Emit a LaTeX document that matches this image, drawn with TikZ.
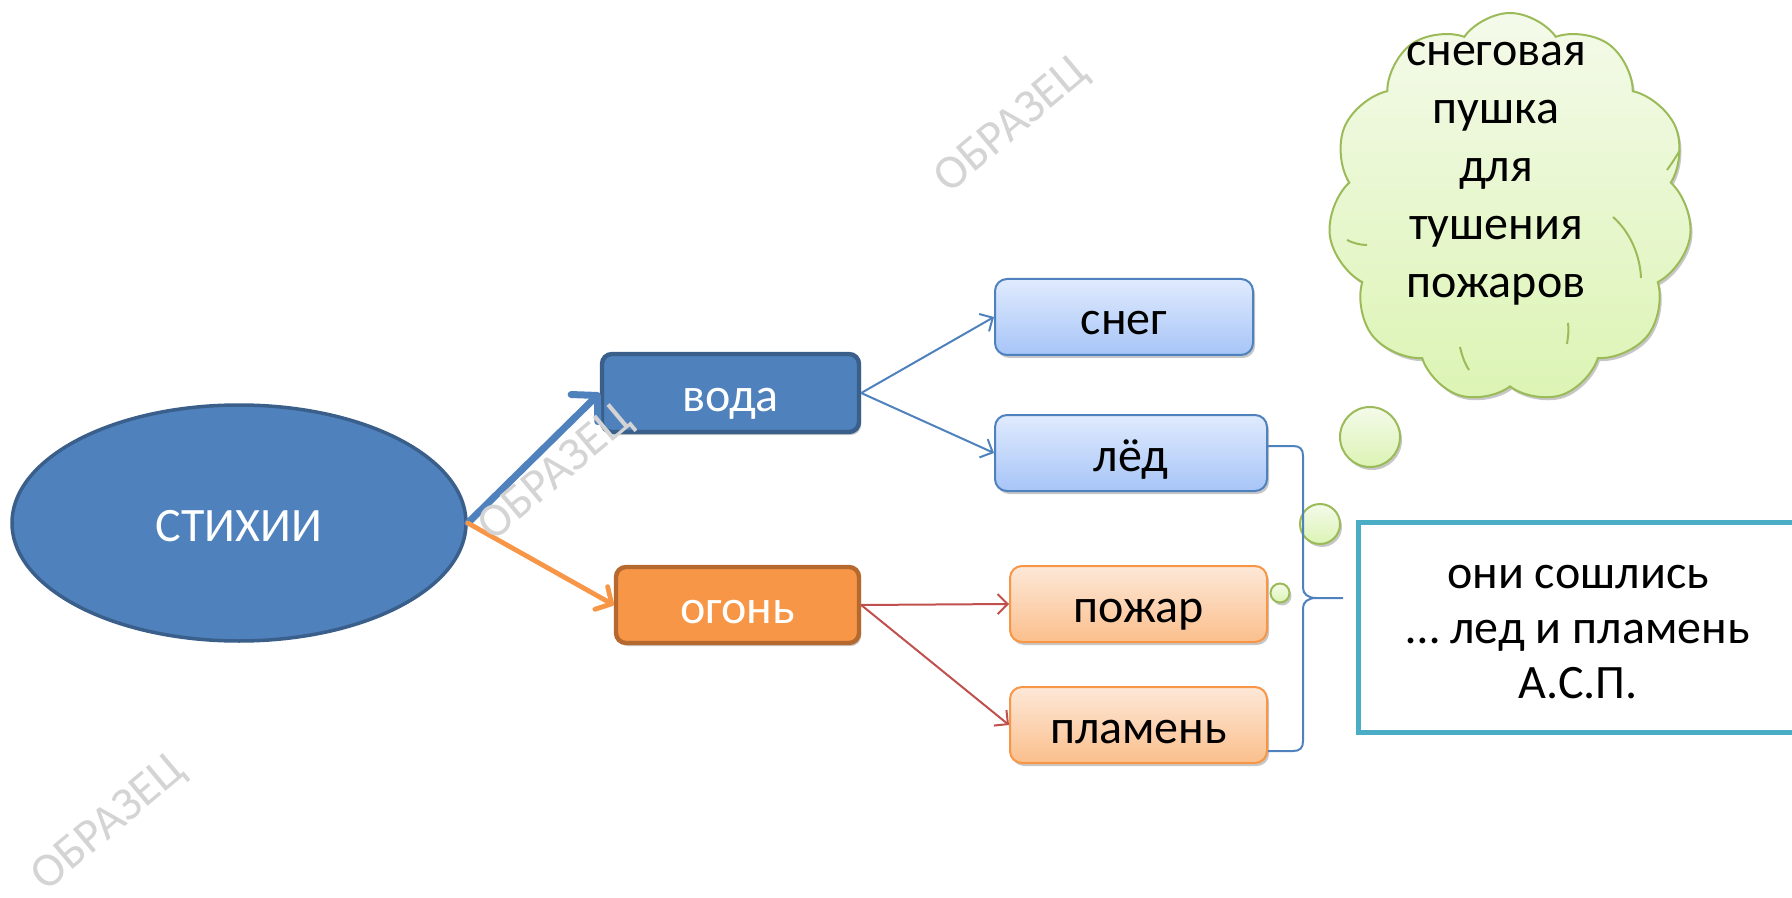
\documentclass[tikz,border=0pt]{standalone}
\usepackage{fontspec}
\setmainfont{Carlito}
\usetikzlibrary{shapes.geometric,shapes.symbols,arrows.meta,shadows}
\definecolor{accblue}{HTML}{4F81BD}
\definecolor{darkblue}{HTML}{3A5F8B}
\definecolor{accorange}{HTML}{F79646}
\definecolor{darkorange}{HTML}{B5692F}
\definecolor{accred}{HTML}{C0504D}
\definecolor{accgreen}{HTML}{9BBB59}
\definecolor{accaqua}{HTML}{4BACC6}
\definecolor{lbtop}{HTML}{E0EBFD}
\definecolor{lbbot}{HTML}{A7C5F7}
\definecolor{lotop}{HTML}{FDE8D8}
\definecolor{lobot}{HTML}{FBBF8C}
\definecolor{lgtop}{HTML}{F4FAEA}
\definecolor{lgbot}{HTML}{DCF4B4}
\definecolor{wmark}{HTML}{D4D4D4}
\begin{document}
\begin{tikzpicture}[x=0.5pt,y=-0.5pt,
  txt/.style={font=\fontsize{24}{29}\selectfont,text height=23pt,text depth=5pt},
  shad/.style={drop shadow={shadow xshift=1pt,shadow yshift=-1.5pt,opacity=0.22,fill=black}},
  darkbox/.style={rectangle,rounded corners=5pt,line width=2.2pt,text=white,txt,inner sep=0pt,shad},
  lightblue/.style={rectangle,rounded corners=6pt,draw=accblue,line width=1pt,top color=lbtop,bottom color=lbbot,txt,inner sep=0pt,minimum height=38pt,shad},
  lightorange/.style={rectangle,rounded corners=6pt,draw=accorange,line width=1pt,top color=lotop,bottom color=lobot,txt,inner sep=0pt,minimum height=38pt,shad},
  bubble/.style={circle,draw=accgreen,line width=1pt,top color=lgtop,bottom color=lgbot,inner sep=0pt,shad},
  thinblue/.style={accblue,line width=1pt,-{Straight Barb[length=5pt,width=10pt]}},
  thinred/.style={accred,line width=1pt,-{Straight Barb[length=5pt,width=10pt]}},
  puffline/.style={accgreen,line width=1pt},
  wm/.style={text=wmark,font=\fontsize{24}{28}\selectfont,inner sep=0pt}
]
\useasboundingbox (0,0) rectangle (1792,898);

% cloud
\node[cloud,cloud puffs=11,cloud puff arc=110,cloud ignores aspect,
  minimum width=182pt,minimum height=195pt,draw=accgreen,line width=1pt,
  top color=lgtop,bottom color=lgbot,shad] (cloud) at (1510,208) {};
\draw[puffline] (1613,217) .. controls (1630,232) and (1640,255) .. (1641,278);
\draw[puffline] (1460,347) .. controls (1462,356) and (1465,364) .. (1469,370);
\draw[puffline] (1568,323) .. controls (1569,330) and (1568,337) .. (1567,344);
\draw[puffline] (1347,240) .. controls (1353,243) and (1360,245) .. (1367,245);
\draw[puffline] (1667,170) .. controls (1672,163) and (1676,157) .. (1680,150);
\node[align=center,font=\fontsize{24}{29}\selectfont] (cloudtxt) at (1496,174)
  {снеговая\\пушка\\для\\тушения\\пожаров};

% bubbles
\node[bubble,minimum size=30pt] (bub1) at (1370,437) {};
\node[bubble,minimum size=20pt] (bub2) at (1320,524) {};
\node[bubble,minimum size=9.5pt] (bub3) at (1280,593) {};

% main nodes
\node[ellipse,draw=darkblue,line width=1.75pt,fill=accblue,minimum width=227pt,
  minimum height=118pt,text=white,txt] (stixii) at (239,523) {СТИХИИ};
\node[darkbox,draw=darkblue,fill=accblue,minimum width=128.5pt,minimum height=39pt] (voda) at (730.5,393) {вода};
\node[darkbox,draw=darkorange,fill=accorange,minimum width=121.5pt,minimum height=38pt] (ogon) at (737.5,605) {огонь};
\node[lightblue,minimum width=129pt] (sneg) at (1124,317) {снег};
\node[lightblue,minimum width=136pt] (led) at (1131,453) {лёд};
\node[lightorange,minimum width=128.5pt] (pozhar) at (1138.5,604) {пожар};
\node[lightorange,minimum width=128.5pt] (plamen) at (1138.5,725) {пламень};

% connectors
\draw[accblue,line width=3.5pt,line cap=round,-{Straight Barb[length=9pt,width=19pt,round]}] (stixii.east) -- (voda.west);
\draw[accorange,line width=2.4pt,line cap=round,-{Straight Barb[length=6pt,width=13pt,round]}] (stixii.east) -- (ogon.west);
\draw[thinblue] (voda.east) -- (sneg.west);
\draw[thinblue] (voda.east) -- (led.west);
\draw[thinred] (ogon.east) -- (pozhar.west);
\draw[thinred] (ogon.east) -- (plamen.west);

% brace
\coordinate (bt) at (1268,446);
\coordinate (bb) at (1268,751);
\coordinate (bm) at (1343,598);
\draw[accblue,line width=1pt] (bt) -- (1293,446) .. controls (1300,446) and (1303,449) .. (1303,456)
  -- (1303,588) .. controls (1303,594) and (1308,598) .. (1316,598) -- (bm);
\draw[accblue,line width=1pt] (1316,598) .. controls (1308,598) and (1303,602) .. (1303,608)
  -- (1303,741) .. controls (1303,748) and (1300,751) .. (1293,751) -- (bb);

% quote
\node[rectangle,draw=accaqua,line width=2.5pt,fill=white,minimum width=220pt,minimum height=105pt] (quote) at (1578,627) {};
\node[align=center,font=\fontsize{24}{27.5}\selectfont] (quotetxt) at (1578,632) {они сошлись\\… лед и пламень\\А.С.П.};

% watermarks
\node[wm,rotate=40] (wm1) at (1012,126) {ОБРАЗЕЦ};
\node[wm,rotate=40] (wm2) at (556,474) {ОБРАЗЕЦ};
\node[wm,rotate=40] (wm3) at (109,824) {ОБРАЗЕЦ};
\end{tikzpicture}
\end{document}
